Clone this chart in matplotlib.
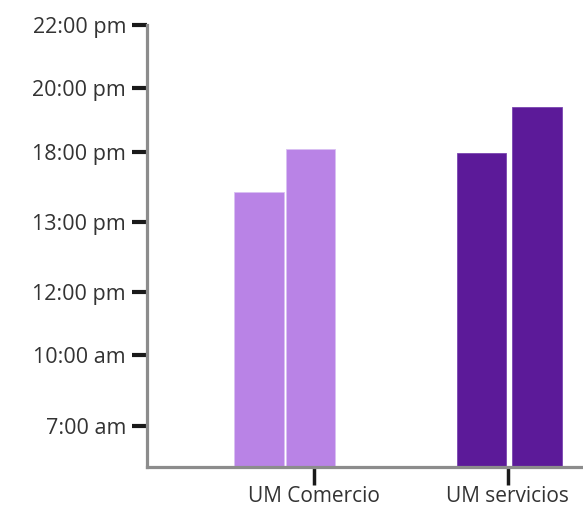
import matplotlib.pyplot as plt

# y axis is an ordinal time scale (labels are not evenly spaced in the source)
time_labels = ["7:00 am", "10:00 am", "12:00 pm", "13:00 pm", "18:00 pm", "20:00 pm", "22:00 pm"]
time_levels = [1.0, 2.06, 3.0, 4.05, 5.1, 6.06, 7.0]

categories = ["UM Comercio", "UM servicios"]
comercio = [4.51, 5.15]
servicios = [5.09, 5.77]

light = "#b983e6"
dark = "#5c1a99"

plt.rcParams["font.family"] = ["Open Sans", "DejaVu Sans"]

fig = plt.figure(figsize=(5.83, 5.09), dpi=100)
ax = fig.add_axes([0.252, 0.0825, 0.748, 0.868])

w = 0.255
ax.bar([-0.284, -0.018], comercio, width=w, color=light, edgecolor="#d9c0f2", linewidth=0.6, bottom=0)
ax.bar([0.863, 1.149], servicios, width=w, color=dark, edgecolor="#7a45b0", linewidth=0.6, bottom=0)

ax.set_xlim(-0.861, 1.387)
ax.set_ylim(0.386, 7.0)

ax.set_yticks(time_levels)
ax.set_yticklabels(time_labels)
ax.set_xticks([0, 1])
ax.set_xticklabels(categories)

for s in ["top", "right"]:
    ax.spines[s].set_visible(False)
for s in ["left", "bottom"]:
    ax.spines[s].set_color("#8c8c8c")
    ax.spines[s].set_linewidth(2.3)

ax.tick_params(axis="y", length=11, width=3, color="#1a1a1a", labelsize=15.5, labelcolor="#333333", pad=4)
ax.tick_params(axis="x", length=13, width=2.5, color="#1a1a1a", labelsize=15, labelcolor="#333333", pad=0.5)

fig.savefig("out.png", dpi=100)
